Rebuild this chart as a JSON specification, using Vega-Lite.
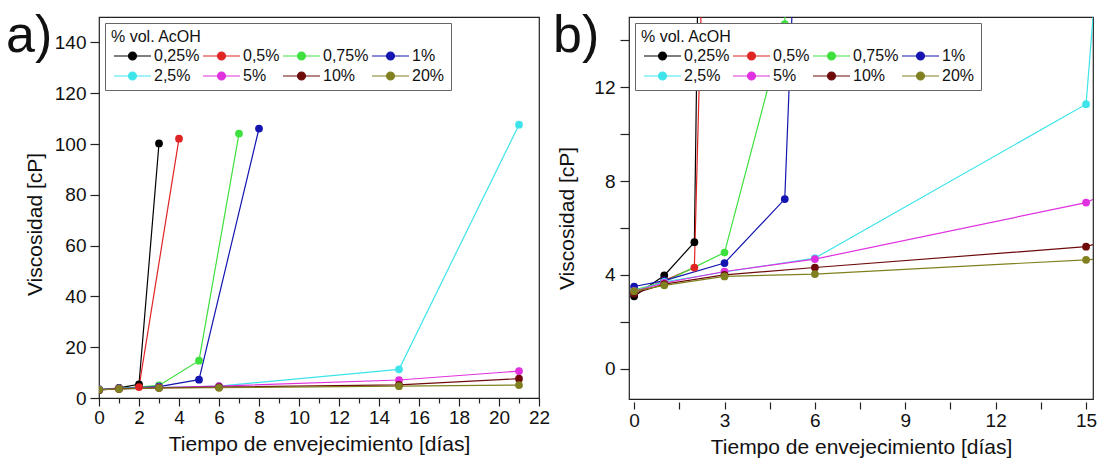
{
  "$schema": "https://vega.github.io/schema/vega-lite/v6.json",
  "padding": {"left": 5, "top": 9, "right": 3, "bottom": 3},
  "background": "white",
  "datasets": {
    "visc": [
      {"s": "0,25%", "d": 0, "v": 3.08}, {"s": "0,25%", "d": 1, "v": 3.97}, {"s": "0,25%", "d": 2, "v": 5.39}, {"s": "0,25%", "d": 3, "v": 100.2},
      {"s": "0,5%", "d": 0, "v": 3.25}, {"s": "0,5%", "d": 1, "v": 3.75}, {"s": "0,5%", "d": 2, "v": 4.31}, {"s": "0,5%", "d": 4, "v": 102.1},
      {"s": "0,75%", "d": 0, "v": 3.35}, {"s": "0,75%", "d": 1, "v": 3.7}, {"s": "0,75%", "d": 3, "v": 4.95}, {"s": "0,75%", "d": 5, "v": 14.7}, {"s": "0,75%", "d": 7, "v": 104.1},
      {"s": "1%", "d": 0, "v": 3.5}, {"s": "1%", "d": 1, "v": 3.75}, {"s": "1%", "d": 3, "v": 4.5}, {"s": "1%", "d": 5, "v": 7.23}, {"s": "1%", "d": 8, "v": 106.1},
      {"s": "2,5%", "d": 0, "v": 3.3}, {"s": "2,5%", "d": 1, "v": 3.7}, {"s": "2,5%", "d": 3, "v": 4.12}, {"s": "2,5%", "d": 6, "v": 4.71}, {"s": "2,5%", "d": 15, "v": 11.28}, {"s": "2,5%", "d": 21, "v": 107.6},
      {"s": "5%", "d": 0, "v": 3.3}, {"s": "5%", "d": 1, "v": 3.65}, {"s": "5%", "d": 3, "v": 4.14}, {"s": "5%", "d": 6, "v": 4.67}, {"s": "5%", "d": 15, "v": 7.08}, {"s": "5%", "d": 21, "v": 10.6},
      {"s": "10%", "d": 0, "v": 3.2}, {"s": "10%", "d": 1, "v": 3.6}, {"s": "10%", "d": 3, "v": 4.0}, {"s": "10%", "d": 6, "v": 4.31}, {"s": "10%", "d": 15, "v": 5.2}, {"s": "10%", "d": 21, "v": 7.6},
      {"s": "20%", "d": 0, "v": 3.3}, {"s": "20%", "d": 1, "v": 3.55}, {"s": "20%", "d": 3, "v": 3.93}, {"s": "20%", "d": 6, "v": 4.03}, {"s": "20%", "d": 15, "v": 4.64}, {"s": "20%", "d": 21, "v": 5.1}
    ]
  },
  "config": {
    "font": "Liberation Sans",
    "view": {"stroke": "#222", "strokeWidth": 1.2},
    "axis": {
      "grid": false, "domain": false, "tickColor": "#222", "tickWidth": 1.2, "labelOverlap": false, "labelFlush": false,
      "labelFont": "Liberation Sans", "labelFontSize": 19, "labelColor": "#111",
      "titleFont": "Liberation Sans", "titleFontSize": 21, "titleFontWeight": "normal", "titleColor": "#111"
    },
    "legend": {
      "orient": "top-left", "offset": 6, "direction": "horizontal", "columns": 4, "gridAlign": "none",
      "strokeColor": "#666", "fillColor": "white", "padding": 6,
      "titleFont": "Liberation Sans", "titleFontSize": 16, "titleFontWeight": "normal", "titleColor": "#111", "titlePadding": 3,
      "labelFont": "Liberation Sans", "labelFontSize": 16, "labelColor": "#111", "labelOffset": 27,
      "columnPadding": 0, "rowPadding": 4,
      "symbolType": "M-1,0L1.9,0M3.5,0L6.4,0M1.9,0A0.8,0.8,0,1,1,3.5,0A0.8,0.8,0,1,1,1.9,0Z",
      "symbolSize": 100, "symbolStrokeWidth": 1.1, "symbolOpacity": 1
    },
    "title": {"font": "Liberation Sans", "fontSize": 52, "fontWeight": "normal", "color": "#111", "anchor": "start", "frame": "group", "offset": 0, "baseline": "alphabetic"}
  },
  "hconcat": [
    {
      "width": 440, "height": 381,
      "title": {"text": "a)", "dx": -93, "dy": 50},
      "data": {"name": "visc"},
      "layer": [
        {
          "layer": [
            {
              "mark": {"type": "line", "clip": true, "strokeWidth": 1.2},
              "encoding": {
                "x": {"field": "d", "type": "quantitative", "scale": {"domain": [0, 22], "nice": false, "zero": false},
                      "axis": {"orient": "bottom", "values": [0,4,8,12,16,20], "labelOverlap": false, "labelFlush": false,
                               "tickSize": 8, "labelPadding": 2, "titlePadding": 6, "title": "Tiempo de envejecimiento [días]"}},
                "y": {"field": "v", "type": "quantitative", "scale": {"domain": [0, 150], "nice": false, "zero": false},
                      "axis": {"orient": "left", "values": [0,10,20,30,40,50,60,70,80,90,100,110,120,130,140,150],
                               "labelExpr": "datum.value % 20 ? '' : datum.label", "labelOverlap": false,
                               "tickSize": 9, "labelPadding": 4, "titlePadding": 9, "titleY": 207, "title": "Viscosidad [cP]",
                               "encode": {"ticks": {"update": {"x2": {"signal": "datum.value % 20 ? -5 : -9"}}}}}},
                "color": {"field": "s", "type": "nominal", "sort": null,
                  "scale": {"domain": ["0,25%","0,5%","0,75%","1%","2,5%","5%","10%","20%"], "range": ["#000000","#e02424","#3ee03e","#1414b0","#3ee4ea","#e030e0","#6e0a0a","#808020"]},
                  "legend": {"title": "% vol. AcOH", "titleFontSize": 16, "titleFontWeight": "normal",
                    "encode": {"symbols": {"update": {"fill": {"scale": "concat_0_color", "field": "value"}, "stroke": {"scale": "concat_0_color", "field": "value"}}}}}}
              }
            },
            {
              "mark": {"type": "point", "filled": true, "size": 60, "opacity": 1, "clip": true},
              "encoding": {
                "x": {"field": "d", "type": "quantitative"},
                "y": {"field": "v", "type": "quantitative"},
                "color": {"field": "s", "type": "nominal", "sort": null}
              }
            }
          ]
        },
        {
          "mark": {"type": "point", "opacity": 0, "clip": true},
          "encoding": {
            "x": {"field": "d", "type": "quantitative", "axis": {"orient": "bottom", "values": [2,6,10,14,18,22], "labelOverlap": false, "labelFlush": false, "tickSize": 8, "labelPadding": 2, "title": null}},
            "y": {"field": "v", "type": "quantitative", "axis": null}
          }
        },
        {
          "mark": {"type": "point", "opacity": 0, "clip": true},
          "encoding": {
            "x": {"field": "d", "type": "quantitative", "axis": {"orient": "bottom", "values": [1,3,5,7,9,11,13,15,17,19,21], "labels": false, "tickSize": 5, "title": null}},
            "y": {"field": "v", "type": "quantitative", "axis": null}
          }
        }
      ],
      "resolve": {"axis": {"x": "independent", "y": "independent"}}
    },
    {
      "width": 464, "height": 382,
      "title": {"text": "b)", "dx": -76, "dy": 50},
      "data": {"name": "visc"},
      "layer": [
        {
          "mark": {"type": "line", "clip": true, "strokeWidth": 1.2},
          "encoding": {
            "x": {"field": "d", "type": "quantitative", "scale": {"domain": [-0.17, 15.23], "nice": false, "zero": false},
                  "axis": {"orient": "bottom", "values": [0,1.5,3,4.5,6,7.5,9,10.5,12,13.5,15],
                           "labelExpr": "datum.value % 3 ? '' : datum.label", "labelOverlap": false, "labelFlush": false,
                           "tickSize": 7, "offset": 3, "labelPadding": 2, "titlePadding": 6, "title": "Tiempo de envejecimiento [días]",
                           "encode": {"ticks": {"update": {"y2": {"signal": "datum.value % 3 ? 5 : 7"}}}}}},
            "y": {"field": "v", "type": "quantitative", "scale": {"domain": [-1.3, 15], "nice": false, "zero": false},
                  "axis": {"orient": "left", "values": [0,2,4,6,8,10,12,14],
                           "labelExpr": "datum.value % 4 ? '' : datum.label", "labelOverlap": false,
                           "tickSize": 9, "labelPadding": 5, "titlePadding": 16, "titleY": 201, "title": "Viscosidad [cP]",
                           "encode": {"ticks": {"update": {"x2": {"signal": "datum.value % 4 ? -5 : -9"}}}}}},
            "color": {"field": "s", "type": "nominal", "sort": null,
              "scale": {"domain": ["0,25%","0,5%","0,75%","1%","2,5%","5%","10%","20%"], "range": ["#000000","#e02424","#3ee03e","#1414b0","#3ee4ea","#e030e0","#6e0a0a","#808020"]},
              "legend": {"title": "% vol. AcOH", "titleFontSize": 16, "titleFontWeight": "normal",
                "encode": {"symbols": {"update": {"fill": {"scale": "concat_1_color", "field": "value"}, "stroke": {"scale": "concat_1_color", "field": "value"}}}}}}
          }
        },
        {
          "mark": {"type": "point", "filled": true, "size": 60, "opacity": 1, "clip": true},
          "encoding": {
            "x": {"field": "d", "type": "quantitative"},
            "y": {"field": "v", "type": "quantitative"},
            "color": {"field": "s", "type": "nominal", "sort": null}
          }
        }
      ]
    }
  ],
  "spacing": 90,
  "bounds": "flush",
  "resolve": {"scale": {"color": "independent"}, "legend": {"color": "independent"}}
}
